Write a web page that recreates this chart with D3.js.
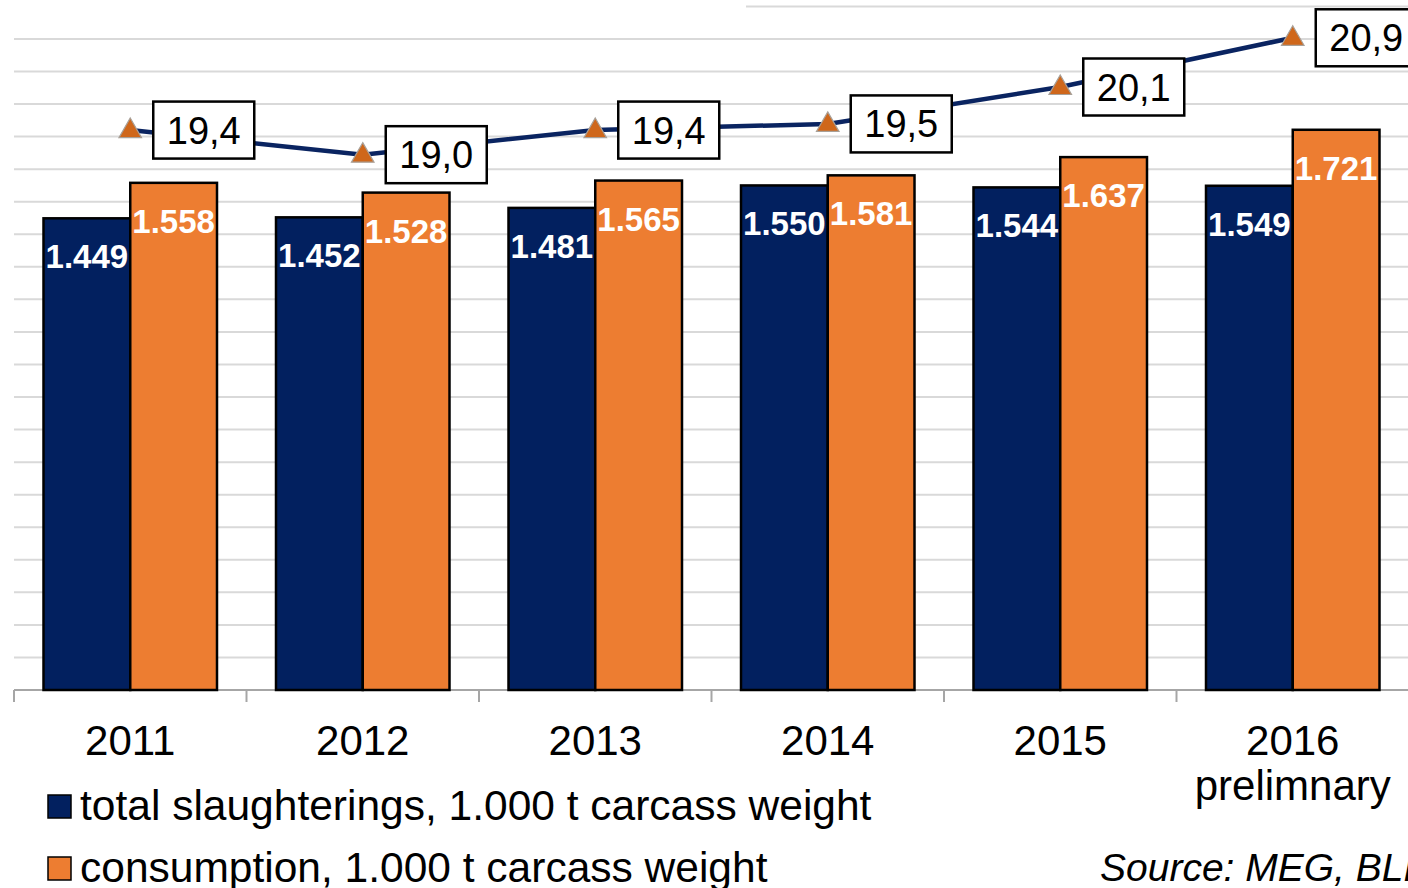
<!DOCTYPE html>
<html>
<head>
<meta charset="utf-8">
<script src="https://cdn.jsdelivr.net/npm/d3@7"></script>
<style>
  body { margin: 0; background: #fff; }
  text { font-family: "Liberation Sans", Arial, sans-serif; }
</style>
</head>
<body>
<script>
var width = 1408,
    height = 888;

// data
var years = ["2011", "2012", "2013", "2014", "2015", "2016"];
var yearNotes = ["", "", "", "", "", "prelimnary"];
var slaughterings = [1449, 1452, 1481, 1550, 1544, 1549];
var consumption = [1558, 1528, 1565, 1581, 1637, 1721];
var perCapita = [19.4, 19.0, 19.4, 19.5, 20.1, 20.9];
var gridTicks = d3.range(100, 2101, 100);
var seriesNames = ["total slaughterings, 1.000 t carcass weight", "consumption, 1.000 t carcass weight"];

var navy = "#02205f",
    orange = "#ed7d31";

var de = d3.formatLocale({decimal: ",", thousands: ".", grouping: [3], currency: ["", " €"]});
var fmtBar = de.format(",d"),
    fmtLine = de.format(".1f");

var svg = d3.select("body").append("svg")
    .attr("width", width)
    .attr("height", height);

var x = d3.scaleBand()
    .domain(years)
    .range([14, 1409]);

var x1 = d3.scaleBand()
    .domain(["s", "c"])
    .range([29.5, x.bandwidth() - 29.5]);

var y = d3.scaleLinear()
    .domain([0, 2100])
    .range([690, 6.4]);

var y2 = d3.scaleLinear()
    .domain([10.3, 21.41])
    .range([690, 6.4]);

// gridlines
svg.append("g")
  .selectAll("line")
  .data(gridTicks)
  .enter().append("line")
    .attr("x1", 14)
    .attr("x2", width)
    .attr("y1", function(d) { return y(d); })
    .attr("y2", function(d) { return y(d); })
    .attr("stroke", "#d9d9d9")
    .attr("stroke-width", 2);

// title area (cropped) hides the top line on the left
svg.append("rect")
    .attr("x", 0).attr("y", 0)
    .attr("width", 746).attr("height", 20)
    .attr("fill", "#fff");

// x axis
var xAxis = svg.append("g");
xAxis.append("line")
    .attr("x1", 14).attr("x2", width)
    .attr("y1", y(0)).attr("y2", y(0))
    .attr("stroke", "#a6a6a6")
    .attr("stroke-width", 2);
xAxis.selectAll(".tick")
  .data(years.concat(["end"]))
  .enter().append("line")
    .attr("x1", function(d, i) { return 14 + i * x.bandwidth(); })
    .attr("x2", function(d, i) { return 14 + i * x.bandwidth(); })
    .attr("y1", y(0))
    .attr("y2", y(0) + 12)
    .attr("stroke", "#a6a6a6")
    .attr("stroke-width", 2);

var labels = svg.append("g")
  .selectAll("text")
  .data(years)
  .enter().append("text")
    .attr("x", function(d) { return x(d) + x.bandwidth() / 2; })
    .attr("y", 755)
    .attr("text-anchor", "middle")
    .attr("font-size", 42)
    .attr("fill", "#000");
labels.append("tspan")
    .text(function(d) { return d; });
labels.append("tspan")
    .attr("x", function(d) { return x(d) + x.bandwidth() / 2; })
    .attr("dy", 45)
    .text(function(d, i) { return yearNotes[i]; });

// bars
var barData = [];
years.forEach(function(yr, i) {
    barData.push({year: yr, key: "s", value: slaughterings[i], color: navy});
    barData.push({year: yr, key: "c", value: consumption[i], color: orange});
});

var bars = svg.append("g");
bars.selectAll("rect")
  .data(barData)
  .enter().append("rect")
    .attr("x", function(d) { return x(d.year) + x1(d.key); })
    .attr("y", function(d) { return y(d.value); })
    .attr("width", x1.bandwidth())
    .attr("height", function(d) { return y(0) - y(d.value); })
    .attr("fill", function(d) { return d.color; })
    .attr("stroke", "#000")
    .attr("stroke-width", 2.5);

bars.selectAll("text")
  .data(barData)
  .enter().append("text")
    .attr("x", function(d) { return x(d.year) + x1(d.key) + x1.bandwidth() / 2; })
    .attr("y", function(d) { return y(d.value) + 50; })
    .attr("text-anchor", "middle")
    .attr("font-size", 33)
    .attr("font-weight", "bold")
    .attr("fill", "#fff")
    .text(function(d) { return fmtBar(d.value); });

// per capita line
var line = d3.line()
    .x(function(d, i) { return x(years[i]) + x.bandwidth() / 2; })
    .y(function(d) { return y2(d); });

svg.append("path")
    .datum(perCapita)
    .attr("d", line)
    .attr("fill", "none")
    .attr("stroke", "#0a2461")
    .attr("stroke-width", 4.5);

var tri = d3.symbol().type(d3.symbolTriangle).size(220);
svg.append("g")
  .selectAll("path")
  .data(perCapita)
  .enter().append("path")
    .attr("transform", function(d, i) {
        return "translate(" + (x(years[i]) + x.bandwidth() / 2) + "," + (y2(d) + 1) + ")";
    })
    .attr("d", tri)
    .attr("fill", "#cf671b")
    .attr("stroke", "#a8a098")
    .attr("stroke-width", 1.2);

var boxes = svg.append("g")
  .selectAll("g")
  .data(perCapita)
  .enter().append("g")
    .attr("transform", function(d, i) {
        return "translate(" + (x(years[i]) + x.bandwidth() / 2 + 23) + "," + (y2(d) - 28.5) + ")";
    });
boxes.append("rect")
    .attr("width", 101)
    .attr("height", 57)
    .attr("fill", "#fff")
    .attr("stroke", "#000")
    .attr("stroke-width", 2.5);
boxes.append("text")
    .attr("x", 50.5)
    .attr("y", 42)
    .attr("text-anchor", "middle")
    .attr("font-size", 38)
    .attr("fill", "#000")
    .text(function(d) { return fmtLine(d); });

// legend
var legend = svg.append("g")
  .selectAll("g")
  .data(seriesNames)
  .enter().append("g")
    .attr("transform", function(d, i) { return "translate(48," + (795 + i * 62) + ")"; });
legend.append("rect")
    .attr("width", 23)
    .attr("height", 23)
    .attr("fill", function(d, i) { return i === 0 ? navy : orange; })
    .attr("stroke", "#000")
    .attr("stroke-width", 1.5);
legend.append("text")
    .attr("x", 32)
    .attr("y", 25)
    .attr("font-size", 42.5)
    .attr("fill", "#000")
    .text(function(d) { return d; });

svg.append("text")
    .attr("x", 1100)
    .attr("y", 881)
    .attr("font-size", 39)
    .attr("font-style", "italic")
    .attr("fill", "#000")
    .text("Source: MEG, BLE");
</script>
</body>
</html>
